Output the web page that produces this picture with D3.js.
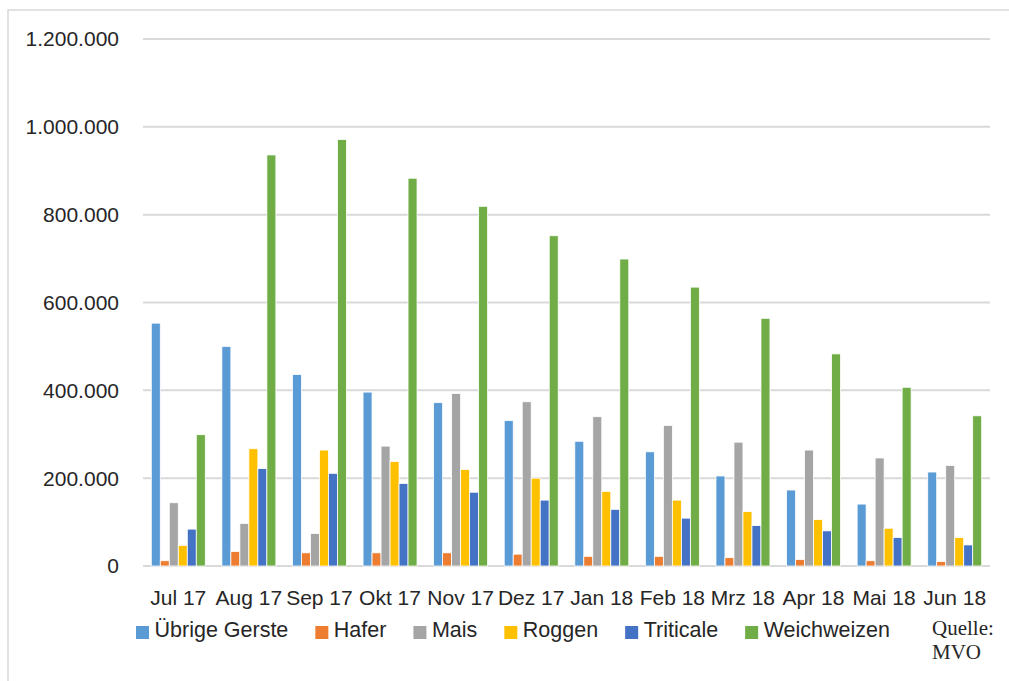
<!DOCTYPE html>
<html>
<head>
<meta charset="utf-8">
<script src="https://cdn.jsdelivr.net/npm/d3@7"></script>
<style>
  body { margin: 0; background: #fff; }
  text { font-family: "Liberation Sans", Arial, sans-serif; fill: #262626; }
</style>
</head>
<body>
<svg id="chart" width="1009" height="681"></svg>
<script>
// months on the x axis
const months = ["Jul 17", "Aug 17", "Sep 17", "Okt 17", "Nov 17", "Dez 17",
                "Jan 18", "Feb 18", "Mrz 18", "Apr 18", "Mai 18", "Jun 18"];

const seriesNames = ["Übrige Gerste", "Hafer", "Mais", "Roggen", "Triticale", "Weichweizen"];
const seriesColors = ["#5B9BD5", "#ED7D31", "#A5A5A5", "#FFC000", "#4472C4", "#70AD47"];

// values in tonnes
const uebrigeGerste = [553000, 500000, 436000, 396000, 372000, 331000, 284000, 260000, 205000, 173000, 141000, 214000];
const hafer         = [12000, 33000, 30000, 30000, 30000, 27000, 22000, 22000, 19000, 15000, 12000, 10000];
const mais          = [144000, 97000, 74000, 273000, 393000, 374000, 340000, 320000, 282000, 264000, 246000, 229000];
const roggen        = [47000, 267000, 264000, 238000, 220000, 200000, 170000, 150000, 124000, 106000, 86000, 65000];
const triticale     = [84000, 222000, 211000, 188000, 168000, 150000, 129000, 109000, 92000, 80000, 65000, 48000];
const weichweizen   = [299000, 936000, 971000, 883000, 819000, 752000, 699000, 635000, 564000, 483000, 407000, 342000];

const yTicks = [0, 200000, 400000, 600000, 800000, 1000000, 1200000];

const seriesValues = [uebrigeGerste, hafer, mais, roggen, triticale, weichweizen];

const svg = d3.select('#chart');

const plotLeft = 143, plotRight = 990, plotTop = 39, plotBottom = 566;

// outer chart border
svg.append('rect')
    .attr('x', 8).attr('y', 10)
    .attr('width', 1020).attr('height', 700)
    .attr('fill', 'none')
    .attr('stroke', '#d9d9d9')
    .attr('stroke-width', 1.5);

const x0 = d3.scaleBand()
    .domain(months)
    .range([plotLeft, plotRight])
    .paddingInner(0.235)
    .paddingOuter(0.1175);

const x1 = d3.scaleBand()
    .domain(seriesNames)
    .range([0, x0.bandwidth()]);

const y = d3.scaleLinear()
    .domain([0, 1200000])
    .range([plotBottom, plotTop]);

const fmt = d3.formatLocale({ decimal: ",", thousands: ".", grouping: [3], currency: ["", "€"] }).format(",");

// gridlines
svg.append('g')
    .selectAll('line')
    .data(yTicks)
    .enter().append('line')
    .attr('x1', plotLeft).attr('x2', plotRight)
    .attr('y1', d => y(d)).attr('y2', d => y(d))
    .attr('stroke', '#d9d9d9')
    .attr('stroke-width', 2);

// y labels
svg.append('g')
    .selectAll('text')
    .data(yTicks)
    .enter().append('text')
    .attr('x', 119)
    .attr('y', d => y(d))
    .attr('dy', '0.35em')
    .attr('text-anchor', 'end')
    .style('font-size', '21px')
    .text(d => fmt(d));

// bars
const groups = svg.append('g')
    .selectAll('g')
    .data(months)
    .enter().append('g')
    .attr('transform', d => 'translate(' + x0(d) + ',0)');

groups.selectAll('rect')
    .data((m, i) => seriesNames.map((s, j) => ({ s: s, v: seriesValues[j][i], c: seriesColors[j] })))
    .enter().append('rect')
    .attr('x', d => x1(d.s))
    .attr('width', x1.bandwidth())
    .attr('y', d => y(d.v))
    .attr('height', d => plotBottom - y(d.v))
    .attr('fill', d => d.c)
    .attr('stroke', '#fff')
    .attr('stroke-width', 0.8);

// x labels
svg.append('g')
    .selectAll('text')
    .data(months)
    .enter().append('text')
    .attr('x', d => x0(d) + x0.bandwidth() / 2)
    .attr('y', 605)
    .attr('text-anchor', 'middle')
    .style('font-size', '21px')
    .text(d => d);

// legend
const legend = svg.append('g');
let lx = 136;
seriesNames.forEach(function (name, i) {
    legend.append('rect')
        .attr('x', lx).attr('y', 626)
        .attr('width', 13).attr('height', 13)
        .attr('fill', seriesColors[i]);
    const t = legend.append('text')
        .attr('x', lx + 18.5)
        .attr('y', 637)
        .style('font-size', '21.5px')
        .text(name);
    lx += 18.5 + t.node().getComputedTextLength() + 27;
});

// source note
svg.append('text')
    .attr('x', 932).attr('y', 635)
    .style('font-family', '"Liberation Serif", "Times New Roman", serif')
    .style('font-size', '21px')
    .text('Quelle:');
svg.append('text')
    .attr('x', 932).attr('y', 659)
    .style('font-family', '"Liberation Serif", "Times New Roman", serif')
    .style('font-size', '21px')
    .text('MVO');
</script>
</body>
</html>
